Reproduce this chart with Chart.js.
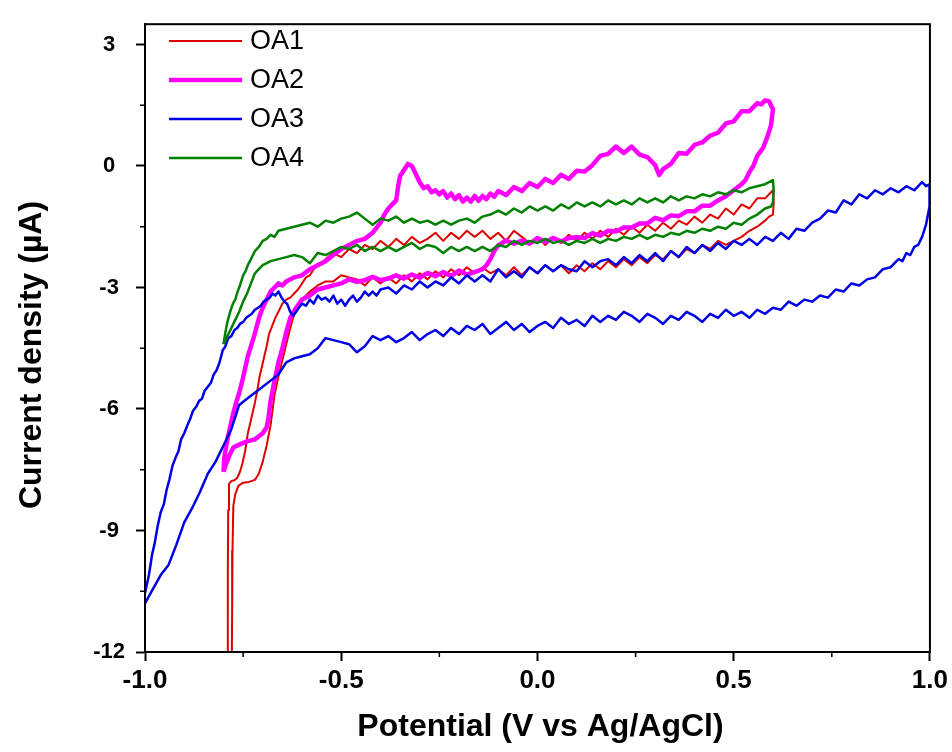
<!DOCTYPE html>
<html>
<head>
<meta charset="utf-8">
<title>Cyclic voltammograms OA1-OA4</title>
<script src="https://cdn.jsdelivr.net/npm/chart.js@4.4.1/dist/chart.umd.min.js"></script>
<style>
  html, body { margin: 0; padding: 0; background: #fff; }
</style>
</head>
<body>
<canvas id="cvChart" width="952" height="752"></canvas>
<script>
// Axis ticks
const xTicks = [-1.0, -0.5, 0.0, 0.5, 1.0];
const yTicks = [-12, -9, -6, -3, 0, 3];
const xMinorTicks = [-0.75, -0.25, 0.25, 0.75];
const yMinorTicks = [-10.5, -7.5, -4.5, -1.5, 1.5];

const seriesNames = ['OA1', 'OA2', 'OA3', 'OA4'];
const xTitle = 'Potential (V vs Ag/AgCl)';
const yTitle = 'Current density (\u00b5A)';

// Loops as [potential (V), current (uA)] in scan order
const oa1Points = [
  [-0.790,-12.5],[-0.789,-10.0],[-0.788,-8.5],[-0.786,-7.85],[-0.780,-7.78],[-0.772,-7.76],[-0.765,-7.7],[-0.758,-7.55],
  [-0.752,-7.35],[-0.745,-7.05],[-0.738,-6.6],[-0.732,-6.35],[-0.726,-6.1],[-0.720,-5.85],[-0.714,-5.55],[-0.708,-5.2],
  [-0.702,-4.95],[-0.696,-4.7],[-0.690,-4.45],[-0.684,-4.15],[-0.676,-3.95],[-0.668,-3.75],[-0.660,-3.6],[-0.650,-3.4],
  [-0.640,-3.3],[-0.630,-3.25],[-0.620,-3.15],[-0.610,-3.05],[-0.600,-2.9],[-0.590,-2.75],[-0.580,-2.7],[-0.570,-2.55],
  [-0.560,-2.45],[-0.550,-2.4],[-0.540,-2.3],[-0.520,-2.15],[-0.500,-2.25],[-0.480,-2.05],[-0.460,-2.15],[-0.440,-1.95],
  [-0.420,-2.05],[-0.400,-1.85],[-0.380,-2.0],[-0.360,-1.8],[-0.340,-1.95],[-0.320,-1.75],[-0.300,-1.9],[-0.280,-1.8],
  [-0.260,-1.65],[-0.240,-1.85],[-0.220,-1.65],[-0.200,-1.8],[-0.180,-1.6],[-0.160,-1.75],[-0.140,-1.6],[-0.120,-1.8],
  [-0.100,-1.65],[-0.080,-1.85],[-0.060,-1.6],[-0.040,-1.75],[-0.020,-1.9],[0.000,-1.75],[0.020,-1.95],[0.040,-1.75],
  [0.060,-1.9],[0.080,-1.7],[0.100,-1.85],[0.120,-1.65],[0.140,-1.8],[0.160,-1.6],[0.180,-1.75],[0.200,-1.55],
  [0.220,-1.7],[0.240,-1.5],[0.260,-1.65],[0.280,-1.45],[0.300,-1.6],[0.320,-1.4],[0.340,-1.55],[0.360,-1.35],
  [0.380,-1.45],[0.400,-1.25],[0.420,-1.4],[0.440,-1.2],[0.460,-1.3],[0.480,-1.05],[0.500,-1.2],[0.520,-0.95],
  [0.540,-1.05],[0.560,-0.8],[0.580,-0.8],[0.600,-0.6],[0.602,-0.9],[0.600,-1.2],[0.590,-1.25],
  [0.580,-1.35],[0.560,-1.5],[0.540,-1.6],[0.520,-1.75],[0.500,-1.85],[0.480,-1.95],[0.460,-1.85],[0.440,-2.05],
  [0.420,-1.95],[0.400,-2.15],[0.380,-2.05],[0.360,-2.25],[0.340,-2.1],[0.320,-2.3],[0.300,-2.2],[0.280,-2.4],
  [0.260,-2.25],[0.240,-2.45],[0.220,-2.3],[0.200,-2.5],[0.180,-2.35],[0.160,-2.55],[0.140,-2.4],[0.120,-2.6],
  [0.100,-2.45],[0.080,-2.65],[0.060,-2.45],[0.040,-2.6],[0.020,-2.45],[0.000,-2.65],[-0.020,-2.5],[-0.040,-2.7],
  [-0.060,-2.5],[-0.080,-2.7],[-0.100,-2.55],[-0.120,-2.65],[-0.140,-2.5],[-0.160,-2.65],[-0.180,-2.5],[-0.200,-2.7],
  [-0.220,-2.55],[-0.240,-2.75],[-0.260,-2.6],[-0.280,-2.8],[-0.300,-2.65],[-0.320,-2.85],[-0.340,-2.7],[-0.360,-2.9],
  [-0.380,-2.75],[-0.400,-2.9],[-0.420,-2.75],[-0.440,-2.95],[-0.460,-2.8],[-0.480,-2.75],[-0.500,-2.7],[-0.520,-2.85],
  [-0.540,-2.85],[-0.560,-2.95],[-0.580,-3.1],[-0.600,-3.3],[-0.620,-3.65],[-0.635,-4.2],[-0.650,-4.8],[-0.660,-5.2],
  [-0.670,-5.65],[-0.680,-6.4],[-0.690,-6.9],[-0.700,-7.3],[-0.710,-7.6],[-0.720,-7.75],[-0.735,-7.8],[-0.750,-7.82],
  [-0.762,-7.9],[-0.770,-8.1],[-0.775,-8.4],[-0.777,-9.5],[-0.778,-11.0],[-0.779,-12.5]
];

const oa2Points = [
  [-0.800,-7.55],[-0.798,-7.2],[-0.790,-6.75],[-0.782,-6.4],[-0.775,-6.1],[-0.768,-5.85],[-0.760,-5.6],[-0.752,-5.3],
  [-0.745,-5.0],[-0.738,-4.7],[-0.730,-4.45],[-0.722,-4.2],[-0.715,-3.95],[-0.708,-3.7],[-0.700,-3.5],[-0.690,-3.3],
  [-0.680,-3.1],[-0.670,-3.0],[-0.660,-2.9],[-0.650,-2.95],[-0.640,-2.85],[-0.620,-2.75],[-0.600,-2.7],[-0.580,-2.55],
  [-0.560,-2.45],[-0.540,-2.35],[-0.520,-2.2],[-0.500,-2.05],[-0.480,-1.95],[-0.460,-1.85],[-0.440,-1.8],[-0.420,-1.65],
  [-0.400,-1.4],[-0.390,-1.2],[-0.380,-1.05],[-0.370,-0.95],[-0.360,-0.85],[-0.355,-0.5],[-0.350,-0.25],[-0.340,-0.1],
  [-0.330,0.05],[-0.320,0.0],[-0.310,-0.2],[-0.300,-0.4],[-0.290,-0.55],[-0.280,-0.5],[-0.270,-0.65],[-0.260,-0.6],
  [-0.250,-0.7],[-0.240,-0.62],[-0.230,-0.78],[-0.220,-0.68],[-0.210,-0.82],[-0.200,-0.72],[-0.190,-0.88],[-0.180,-0.78],
  [-0.170,-0.88],[-0.160,-0.74],[-0.150,-0.86],[-0.140,-0.74],[-0.130,-0.82],[-0.120,-0.68],[-0.110,-0.76],[-0.100,-0.62],
  [-0.080,-0.72],[-0.060,-0.52],[-0.040,-0.62],[-0.020,-0.42],[0.000,-0.52],[0.020,-0.32],[0.040,-0.42],[0.060,-0.22],
  [0.080,-0.32],[0.100,-0.12],[0.120,-0.14],[0.140,0.02],[0.160,0.25],[0.180,0.3],[0.200,0.48],[0.220,0.32],
  [0.240,0.48],[0.260,0.28],[0.280,0.22],[0.300,0.02],[0.310,-0.22],[0.320,-0.08],[0.340,0.05],[0.360,0.32],
  [0.380,0.3],[0.400,0.52],[0.420,0.58],[0.440,0.75],[0.460,0.82],[0.480,1.05],[0.500,1.1],[0.520,1.35],
  [0.540,1.35],[0.560,1.55],[0.570,1.52],[0.580,1.62],[0.590,1.6],[0.600,1.4],[0.595,1.0],[0.585,0.7],
  [0.575,0.45],[0.560,0.25],[0.550,0.0],[0.540,-0.15],[0.530,-0.35],[0.520,-0.45],[0.500,-0.6],[0.480,-0.75],
  [0.460,-0.85],[0.440,-0.98],[0.420,-0.98],[0.400,-1.12],[0.380,-1.12],[0.360,-1.24],[0.340,-1.22],[0.320,-1.34],
  [0.300,-1.28],[0.280,-1.42],[0.260,-1.42],[0.240,-1.52],[0.220,-1.52],[0.200,-1.62],[0.180,-1.6],[0.160,-1.72],
  [0.140,-1.66],[0.120,-1.78],[0.100,-1.76],[0.080,-1.78],[0.060,-1.86],[0.040,-1.78],[0.020,-1.88],[0.000,-1.78],
  [-0.020,-1.92],[-0.040,-1.84],[-0.060,-1.92],[-0.080,-1.84],[-0.100,-1.96],[-0.110,-2.1],[-0.120,-2.3],[-0.130,-2.45],
  [-0.140,-2.55],[-0.160,-2.62],[-0.180,-2.68],[-0.200,-2.58],[-0.220,-2.72],[-0.240,-2.62],[-0.260,-2.72],[-0.280,-2.64],
  [-0.300,-2.76],[-0.320,-2.68],[-0.340,-2.78],[-0.360,-2.7],[-0.380,-2.78],[-0.400,-2.82],[-0.420,-2.74],[-0.440,-2.82],
  [-0.460,-2.86],[-0.480,-2.8],[-0.500,-2.9],[-0.520,-2.95],[-0.540,-3.0],[-0.560,-3.05],[-0.580,-3.2],[-0.600,-3.3],
  [-0.615,-3.5],[-0.630,-3.75],[-0.640,-4.1],[-0.650,-4.5],[-0.660,-4.85],[-0.670,-5.3],[-0.680,-5.8],[-0.685,-6.2],
  [-0.690,-6.45],[-0.700,-6.6],[-0.720,-6.75],[-0.740,-6.8],[-0.760,-6.88],[-0.775,-6.95],[-0.785,-7.15],[-0.795,-7.4],
  [-0.800,-7.55]
];

const oa3Points = [
  [-1.000,-10.55],[-0.990,-10.1],[-0.982,-9.6],[-0.975,-9.3],[-0.968,-8.9],[-0.960,-8.55],[-0.952,-8.35],[-0.945,-8.0],
  [-0.938,-7.75],[-0.930,-7.4],[-0.922,-7.2],[-0.915,-7.05],[-0.908,-6.75],[-0.900,-6.6],[-0.892,-6.4],[-0.885,-6.25],
  [-0.878,-6.05],[-0.870,-5.95],[-0.862,-5.8],[-0.855,-5.75],[-0.848,-5.55],[-0.840,-5.45],[-0.832,-5.35],[-0.825,-5.15],
  [-0.818,-5.05],[-0.810,-4.85],[-0.802,-4.55],[-0.795,-4.45],[-0.788,-4.25],[-0.780,-4.2],[-0.772,-4.05],[-0.765,-4.0],
  [-0.758,-3.9],[-0.750,-3.85],[-0.742,-3.75],[-0.735,-3.7],[-0.728,-3.65],[-0.720,-3.55],[-0.712,-3.5],[-0.705,-3.45],
  [-0.698,-3.35],[-0.690,-3.3],[-0.682,-3.25],[-0.675,-3.15],[-0.668,-3.2],[-0.660,-3.1],[-0.652,-3.25],[-0.645,-3.35],
  [-0.638,-3.4],[-0.630,-3.6],[-0.622,-3.7],[-0.615,-3.6],[-0.608,-3.5],[-0.600,-3.4],[-0.590,-3.45],[-0.580,-3.3],
  [-0.570,-3.4],[-0.560,-3.2],[-0.550,-3.3],[-0.540,-3.25],[-0.530,-3.35],[-0.520,-3.2],[-0.510,-3.4],[-0.500,-3.3],
  [-0.490,-3.45],[-0.480,-3.3],[-0.470,-3.2],[-0.460,-3.35],[-0.450,-3.25],[-0.440,-3.1],[-0.430,-3.2],[-0.420,-3.1],
  [-0.410,-3.2],[-0.400,-3.05],[-0.380,-3.0],[-0.360,-3.15],[-0.340,-2.95],[-0.320,-3.05],[-0.300,-2.85],[-0.280,-3.0],
  [-0.260,-2.85],[-0.240,-2.95],[-0.220,-2.75],[-0.200,-2.9],[-0.180,-2.7],[-0.160,-2.85],[-0.140,-2.7],[-0.120,-2.85],
  [-0.100,-2.55],[-0.080,-2.75],[-0.060,-2.6],[-0.040,-2.75],[-0.020,-2.5],[0.000,-2.65],[0.020,-2.45],[0.040,-2.6],
  [0.060,-2.45],[0.080,-2.55],[0.100,-2.6],[0.120,-2.35],[0.140,-2.5],[0.160,-2.35],[0.180,-2.3],[0.200,-2.45],
  [0.220,-2.25],[0.240,-2.4],[0.260,-2.2],[0.280,-2.35],[0.300,-2.15],[0.320,-2.35],[0.340,-2.1],[0.360,-2.25],
  [0.380,-2.0],[0.400,-2.15],[0.420,-1.95],[0.440,-2.1],[0.460,-1.9],[0.480,-2.05],[0.500,-1.85],[0.520,-1.95],
  [0.540,-1.8],[0.560,-1.95],[0.580,-1.75],[0.600,-1.85],[0.620,-1.65],[0.640,-1.8],[0.660,-1.55],[0.680,-1.6],
  [0.700,-1.4],[0.720,-1.3],[0.740,-1.1],[0.760,-1.15],[0.780,-0.85],[0.800,-0.95],[0.820,-0.7],[0.840,-0.8],
  [0.860,-0.6],[0.880,-0.7],[0.900,-0.55],[0.920,-0.65],[0.940,-0.5],[0.960,-0.6],[0.980,-0.4],[0.990,-0.5],
  [1.000,-0.45],[1.000,-0.75],[0.998,-1.0],[0.995,-1.2],[0.990,-1.45],[0.985,-1.6],[0.980,-1.75],[0.970,-1.95],
  [0.960,-2.0],[0.950,-2.2],[0.940,-2.15],[0.930,-2.35],[0.920,-2.3],[0.900,-2.5],[0.880,-2.55],[0.860,-2.75],
  [0.840,-2.8],[0.820,-2.95],[0.800,-2.9],[0.780,-3.1],[0.760,-3.05],[0.740,-3.25],[0.720,-3.2],[0.700,-3.35],
  [0.680,-3.3],[0.660,-3.45],[0.640,-3.35],[0.620,-3.55],[0.600,-3.5],[0.580,-3.65],[0.560,-3.55],[0.540,-3.75],
  [0.520,-3.6],[0.500,-3.7],[0.480,-3.55],[0.460,-3.75],[0.440,-3.65],[0.420,-3.85],[0.400,-3.7],[0.380,-3.6],
  [0.360,-3.8],[0.340,-3.7],[0.320,-3.9],[0.300,-3.75],[0.280,-3.65],[0.260,-3.85],[0.240,-3.7],[0.220,-3.6],
  [0.200,-3.8],[0.180,-3.7],[0.160,-3.85],[0.140,-3.7],[0.120,-3.95],[0.100,-3.8],[0.080,-3.9],[0.060,-3.75],
  [0.040,-4.0],[0.020,-3.85],[0.000,-3.95],[-0.020,-4.1],[-0.040,-3.9],[-0.060,-4.05],[-0.080,-3.85],[-0.100,-4.0],
  [-0.120,-4.15],[-0.140,-3.9],[-0.160,-4.05],[-0.180,-3.95],[-0.200,-4.15],[-0.220,-4.0],[-0.240,-4.2],[-0.260,-4.05],
  [-0.280,-4.15],[-0.300,-4.3],[-0.320,-4.1],[-0.340,-4.25],[-0.360,-4.35],[-0.380,-4.2],[-0.400,-4.3],[-0.420,-4.2],
  [-0.440,-4.45],[-0.460,-4.6],[-0.480,-4.4],[-0.500,-4.35],[-0.520,-4.3],[-0.540,-4.25],[-0.560,-4.5],[-0.580,-4.65],
  [-0.600,-4.7],[-0.620,-4.75],[-0.640,-4.85],[-0.660,-5.15],[-0.680,-5.3],[-0.700,-5.45],[-0.720,-5.6],[-0.740,-5.75],
  [-0.760,-5.9],[-0.780,-6.5],[-0.800,-6.9],[-0.820,-7.3],[-0.840,-7.6],[-0.860,-8.05],[-0.880,-8.45],[-0.900,-8.8],
  [-0.920,-9.35],[-0.940,-9.85],[-0.960,-10.1],[-0.980,-10.45],[-1.000,-10.8]
];

const oa4Points = [
  [-0.800,-4.4],[-0.795,-4.1],[-0.790,-3.85],[-0.783,-3.6],[-0.776,-3.4],[-0.770,-3.3],[-0.764,-3.1],[-0.758,-2.95],
  [-0.750,-2.7],[-0.744,-2.6],[-0.738,-2.45],[-0.730,-2.3],[-0.720,-2.1],[-0.710,-2.0],[-0.700,-1.85],[-0.690,-1.8],
  [-0.680,-1.7],[-0.670,-1.75],[-0.660,-1.6],[-0.640,-1.55],[-0.620,-1.5],[-0.600,-1.45],[-0.580,-1.4],[-0.560,-1.5],
  [-0.540,-1.35],[-0.520,-1.4],[-0.500,-1.3],[-0.480,-1.25],[-0.460,-1.15],[-0.440,-1.3],[-0.420,-1.45],[-0.400,-1.3],
  [-0.380,-1.35],[-0.360,-1.25],[-0.340,-1.4],[-0.320,-1.3],[-0.300,-1.4],[-0.280,-1.35],[-0.260,-1.45],[-0.240,-1.35],
  [-0.220,-1.45],[-0.200,-1.35],[-0.180,-1.3],[-0.160,-1.4],[-0.140,-1.25],[-0.120,-1.2],[-0.100,-1.1],[-0.080,-1.2],
  [-0.060,-1.05],[-0.040,-1.15],[-0.020,-1.0],[0.000,-1.1],[0.020,-1.0],[0.040,-1.1],[0.060,-0.95],[0.080,-1.05],
  [0.100,-0.9],[0.120,-1.0],[0.140,-0.9],[0.160,-1.0],[0.180,-0.85],[0.200,-0.95],[0.220,-0.85],[0.240,-0.95],
  [0.260,-0.8],[0.280,-0.9],[0.300,-0.8],[0.320,-0.9],[0.340,-0.75],[0.360,-0.85],[0.380,-0.75],[0.400,-0.8],
  [0.420,-0.7],[0.440,-0.75],[0.460,-0.65],[0.480,-0.7],[0.500,-0.6],[0.520,-0.65],[0.540,-0.55],[0.560,-0.5],
  [0.580,-0.45],[0.600,-0.35],[0.602,-0.6],[0.600,-0.9],[0.595,-1.0],[0.580,-1.05],[0.560,-1.2],[0.540,-1.3],
  [0.520,-1.45],[0.500,-1.4],[0.480,-1.55],[0.460,-1.5],[0.440,-1.6],[0.420,-1.55],[0.400,-1.65],[0.380,-1.6],
  [0.360,-1.7],[0.340,-1.65],[0.320,-1.75],[0.300,-1.7],[0.280,-1.8],[0.260,-1.7],[0.240,-1.8],[0.220,-1.75],
  [0.200,-1.85],[0.180,-1.8],[0.160,-1.9],[0.140,-1.8],[0.120,-1.9],[0.100,-1.85],[0.080,-1.95],[0.060,-1.85],
  [0.040,-1.9],[0.020,-1.8],[0.000,-1.9],[-0.020,-1.85],[-0.040,-1.95],[-0.060,-1.85],[-0.080,-2.0],[-0.100,-1.95],
  [-0.120,-2.1],[-0.140,-2.0],[-0.160,-2.1],[-0.180,-2.0],[-0.200,-2.1],[-0.220,-2.0],[-0.240,-2.15],[-0.260,-2.0],
  [-0.280,-1.95],[-0.300,-2.05],[-0.320,-1.9],[-0.340,-2.0],[-0.360,-2.1],[-0.380,-2.0],[-0.400,-2.1],[-0.420,-2.0],
  [-0.440,-2.1],[-0.460,-1.95],[-0.480,-2.05],[-0.500,-2.0],[-0.520,-2.1],[-0.540,-2.2],[-0.560,-2.15],[-0.580,-2.4],
  [-0.600,-2.25],[-0.620,-2.2],[-0.640,-2.25],[-0.660,-2.3],[-0.680,-2.35],[-0.700,-2.45],[-0.710,-2.55],[-0.720,-2.65],
  [-0.730,-2.9],[-0.740,-3.15],[-0.750,-3.35],[-0.760,-3.6],[-0.770,-3.8],[-0.780,-4.0],[-0.790,-4.2],[-0.800,-4.4]
];

(function () {
    'use strict';

    const FONT = '"Liberation Sans", Arial, sans-serif';

    // legend rows sit in the top-left corner of the plot, like the Origin original
    const legendRows = [41, 80, 119, 158];

    const overlay = {
        id: 'overlay',
        afterDraw(chart) {
            const { ctx, chartArea: a, scales } = chart;
            ctx.save();

            // closed frame
            ctx.strokeStyle = '#000';
            ctx.lineWidth = 2;
            ctx.strokeRect(a.left, a.top, a.right - a.left, a.bottom - a.top);

            // minor ticks
            ctx.lineWidth = 1.5;
            ctx.beginPath();
            xMinorTicks.forEach(v => {
                const px = scales.x.getPixelForValue(v);
                ctx.moveTo(px, a.bottom);
                ctx.lineTo(px, a.bottom + 5);
            });
            yMinorTicks.forEach(v => {
                const py = scales.y.getPixelForValue(v);
                ctx.moveTo(a.left, py);
                ctx.lineTo(a.left - 5, py);
            });
            ctx.stroke();

            // axis titles
            ctx.fillStyle = '#000';
            ctx.font = 'bold 32px ' + FONT;
            ctx.textAlign = 'center';
            ctx.textBaseline = 'middle';
            ctx.fillText(xTitle, (a.left + a.right) / 2 + 3, 727);
            ctx.save();
            ctx.translate(32, 355);
            ctx.rotate(-Math.PI / 2);
            ctx.fillText(yTitle, 0, 0);
            ctx.restore();

            // legend
            ctx.font = '27px ' + FONT;
            ctx.textAlign = 'left';
            chart.data.datasets.forEach((ds, i) => {
                const y = legendRows[i];
                ctx.strokeStyle = ds.borderColor;
                ctx.lineWidth = ds.borderWidth;
                ctx.beginPath();
                ctx.moveTo(169, y);
                ctx.lineTo(242, y);
                ctx.stroke();
                ctx.fillStyle = '#000';
                ctx.fillText(ds.label, 250, y + 1);
            });

            ctx.restore();
        }
    };

    const lineStyle = (label, points, color, width, order) => ({
        label: label,
        data: points,
        borderColor: color,
        backgroundColor: color,
        borderWidth: width,
        pointRadius: 0,
        tension: 0,
        borderJoinStyle: 'round',
        fill: false,
        order: order
    });

    new Chart(document.getElementById('cvChart'), {
        type: 'line',
        data: {
            datasets: [
                lineStyle(seriesNames[0], oa1Points, '#e00000', 2, 4),
                lineStyle(seriesNames[1], oa2Points, '#ff00ff', 4.5, 3),
                lineStyle(seriesNames[2], oa3Points, '#0000e6', 2.5, 2),
                lineStyle(seriesNames[3], oa4Points, '#008000', 2.5, 1)
            ]
        },
        options: {
            responsive: false,
            animation: false,
            layout: { padding: { top: 15, right: 22, left: 0, bottom: 0 } },
            plugins: {
                legend: { display: false },
                tooltip: { enabled: false }
            },
            scales: {
                x: {
                    type: 'linear',
                    min: -1,
                    max: 1,
                    afterFit: scale => { scale.height = 100; },
                    afterBuildTicks: scale => { scale.ticks = xTicks.map(v => ({ value: v })); },
                    grid: { drawOnChartArea: false, tickLength: 9, tickWidth: 2, tickColor: '#000' },
                    border: { display: true, color: '#000', width: 2 },
                    ticks: {
                        color: '#000',
                        padding: 4,
                        maxRotation: 0,
                        autoSkip: false,
                        font: { family: FONT, size: 26, weight: 'bold' },
                        callback: v => v.toFixed(1)
                    }
                },
                y: {
                    type: 'linear',
                    min: -12,
                    max: 3.5,
                    afterFit: scale => { scale.width = 145; },
                    afterBuildTicks: scale => { scale.ticks = yTicks.map(v => ({ value: v })); },
                    grid: { drawOnChartArea: false, tickLength: 9, tickWidth: 2, tickColor: '#000' },
                    border: { display: true, color: '#000', width: 2 },
                    ticks: {
                        color: '#000',
                        padding: 11,
                        crossAlign: 'center',
                        autoSkip: false,
                        font: { family: FONT, size: 22, weight: 'bold' },
                        callback: v => String(v)
                    }
                }
            }
        },
        plugins: [overlay]
    });
})();
</script>
</body>
</html>
